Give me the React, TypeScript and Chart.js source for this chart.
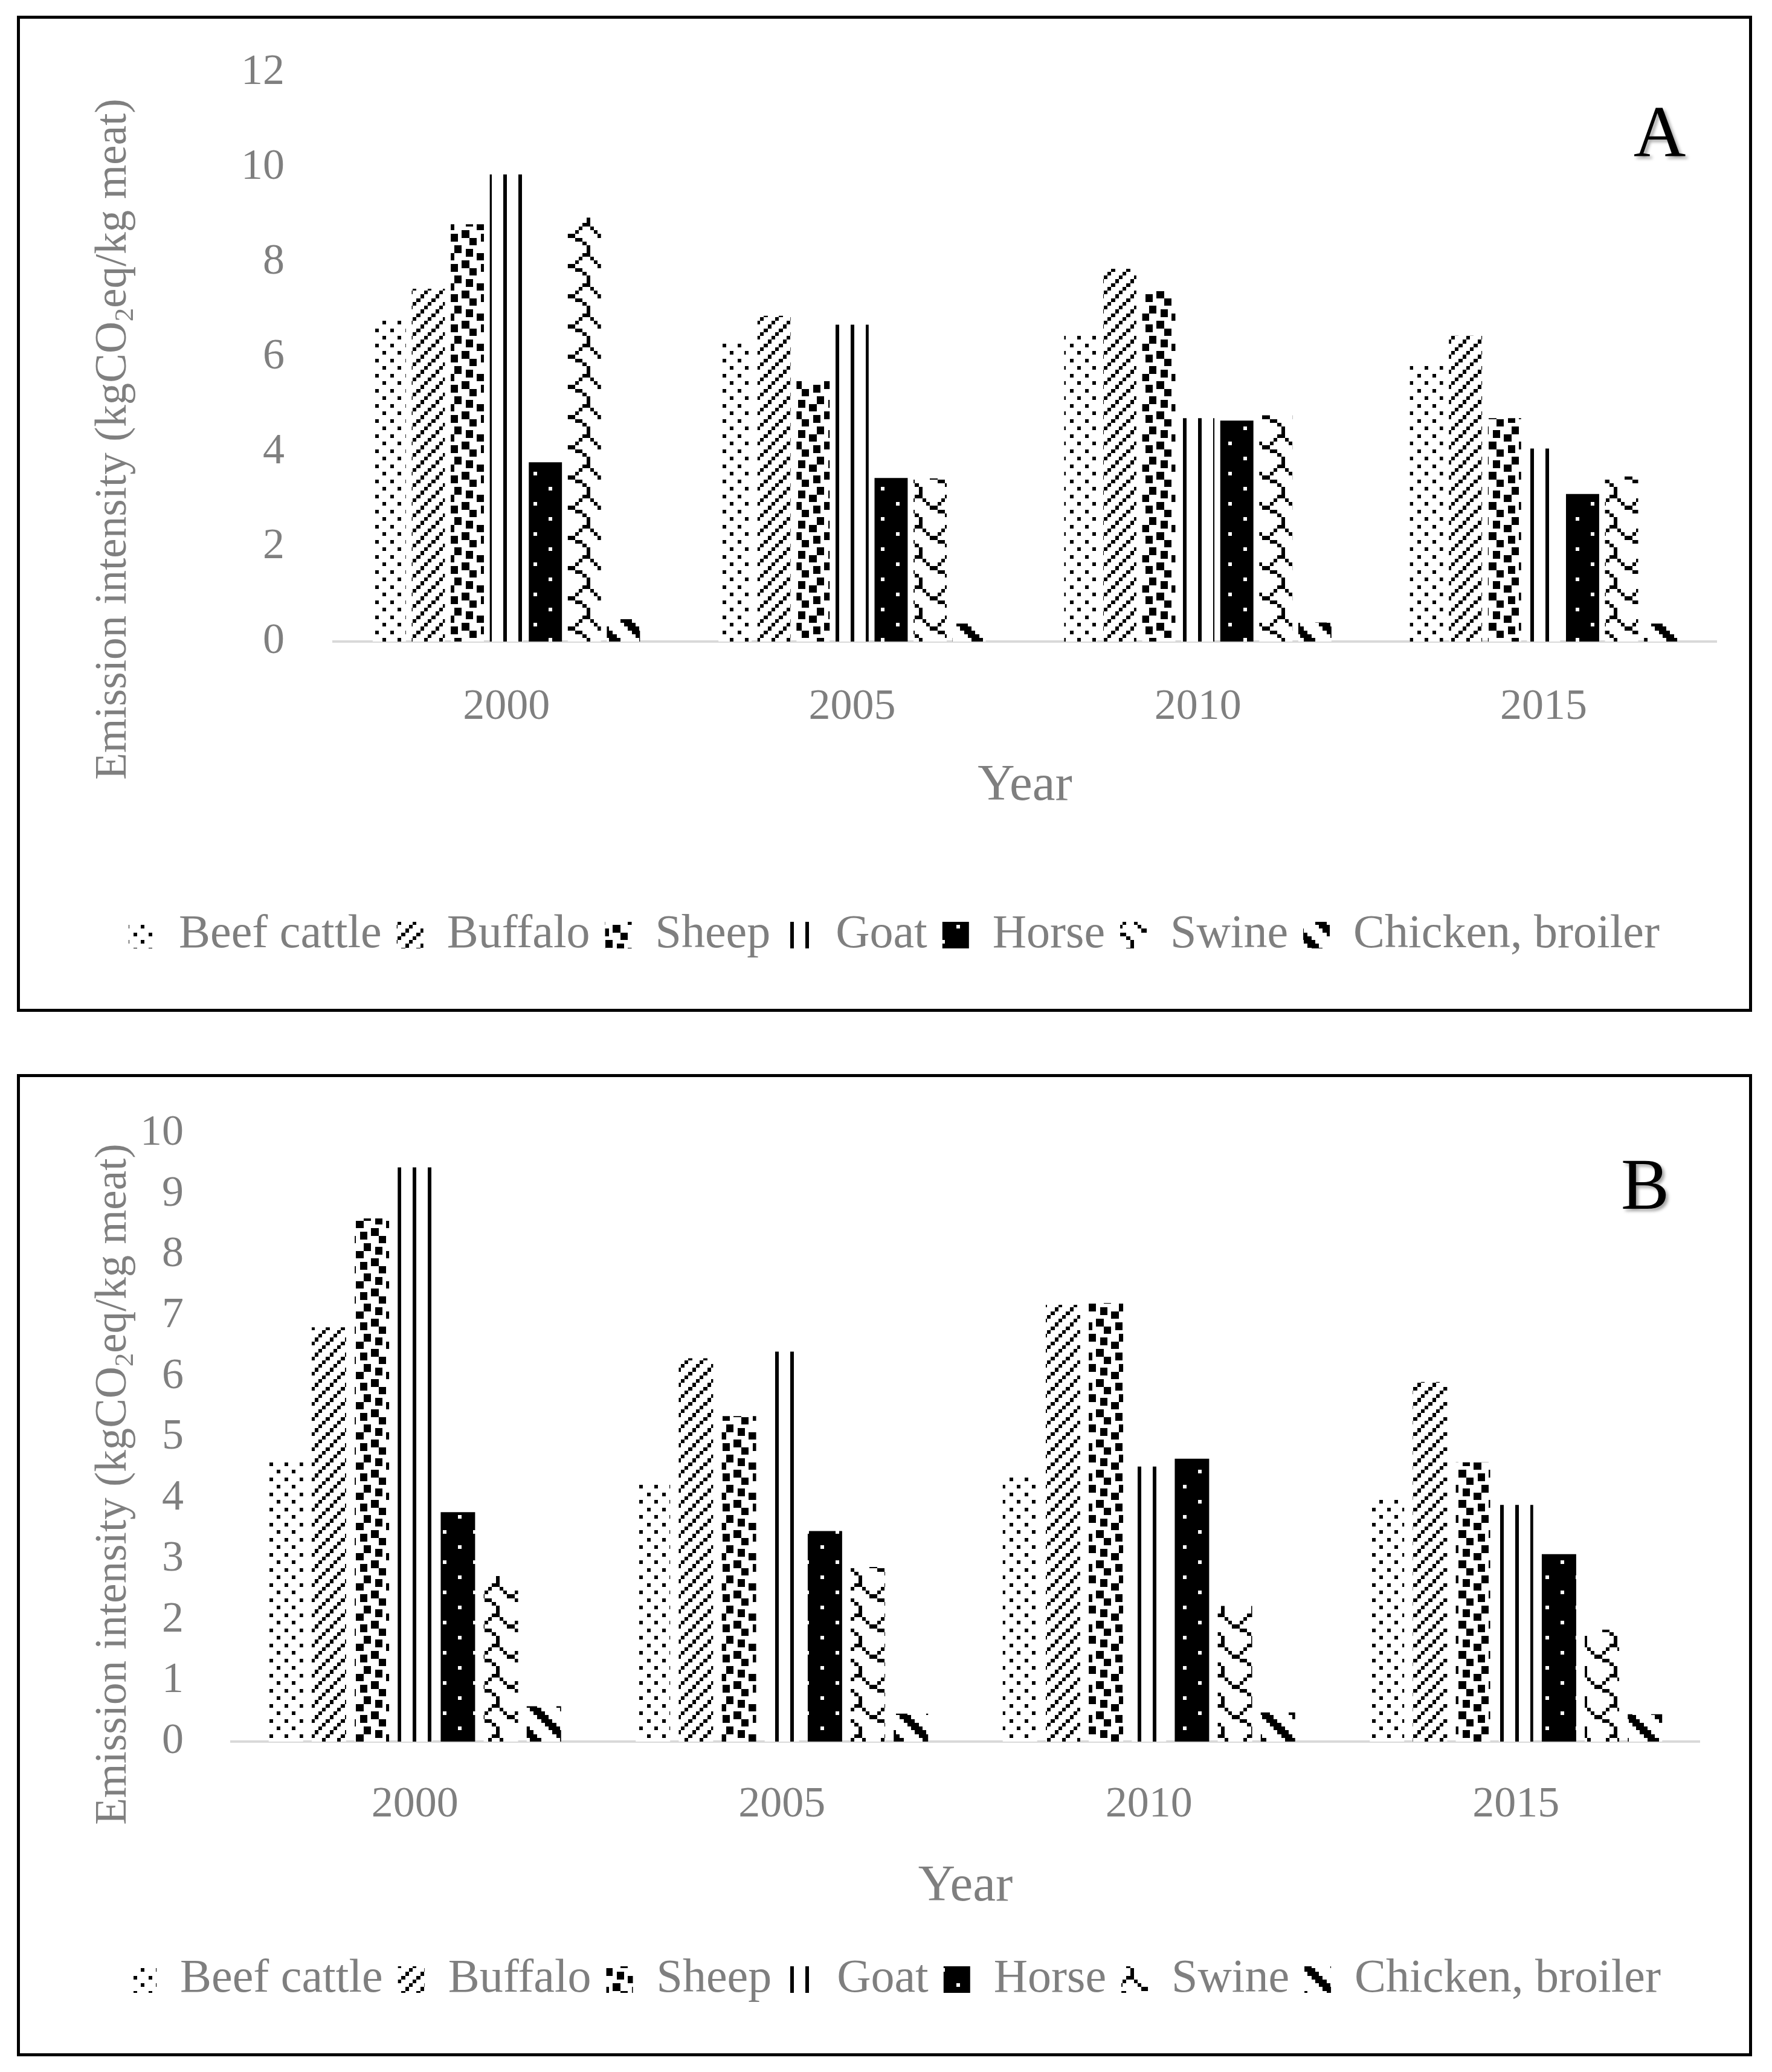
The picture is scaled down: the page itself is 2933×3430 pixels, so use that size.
import React, { useEffect, useRef } from "react";
import { Chart, registerables } from "chart.js";

Chart.register(...registerables);

// ---------- data ----------
const years = ["2000", "2005", "2010", "2015"];
const seriesNames = ["Beef cattle", "Buffalo", "Sheep", "Goat", "Horse", "Swine", "Chicken, broiler"];

// Panel A
const beefA = [6.84, 6.32, 6.52, 5.88];
const buffaloA = [7.44, 6.87, 7.86, 6.45];
const sheepA = [8.8, 5.49, 7.39, 4.71];
const goatA = [9.85, 6.68, 4.71, 4.07];
const horseA = [3.78, 3.45, 4.66, 3.11];
const swineA = [8.94, 3.44, 4.77, 3.48];
const chickenA = [0.47, 0.38, 0.4, 0.38];
const yMaxA = 12;
const yStepA = 2;

// Panel B
const beefB = [4.65, 4.28, 4.39, 4.01];
const buffaloB = [6.81, 6.3, 7.18, 5.91];
const sheepB = [8.6, 5.35, 7.21, 4.59];
const goatB = [9.44, 6.41, 4.52, 3.89];
const horseB = [3.77, 3.46, 4.65, 3.08];
const swineB = [2.72, 2.87, 2.23, 1.84];
const chickenB = [0.58, 0.46, 0.48, 0.45];
const yMaxB = 10;
const yStepB = 1;

const yTitleMain1 = "Emission intensity (kgCO";
const yTitleSub = "2";
const yTitleMain2 = "eq/kg meat)";
const xTitle = "Year";

const FONT = "'Liberation Serif', 'DejaVu Serif', serif";
const GREY = "#7f7f7f";

// ---------- fill patterns (8x8 bitmaps, X = black) ----------
const bmpBeef = ["X...X...", "........", "..X...X.", "........", "X...X...", "........", "..X...X.", "........"];
const bmpBuffalo = ["...X...X", "..X...X.", ".X...X..", "X...X...", "...X...X", "..X...X.", ".X...X..", "X...X..."];
const bmpSheep = [".....XX.", "..XX.XX.", "X.XX...X", "X......X", "...XX...", "...XX.XX", ".XX...XX", ".XX....."];
const bmpGoat = ["X...X...", "X...X...", "X...X...", "X...X...", "X...X...", "X...X...", "X...X...", "X...X..."];
const bmpHorse = [".XXXXXXX", "XXXXXXXX", "XXXXXXXX", "XXXXXXXX", "XXXX.XXX", "XXXXXXXX", "XXXXXXXX", "XXXXXXXX"];
const bmpSwine = ["X..X....", ".XX.....", "...XX...", ".....X..", "......X.", "......X.", ".....XX.", "....X..X"];
const bmpChicken = ["XXX.....", ".XXX....", "..XXX...", "...XXX..", "....XXX.", ".....XXX", "X.....XX", "XX.....X"];

function bitmapPattern(rows: string[], u = 6.25) {
  const n = rows.length;
  const size = Math.round(n * u);
  const c = document.createElement("canvas");
  c.width = size;
  c.height = size;
  const g = c.getContext("2d")!;
  g.fillStyle = "#fff";
  g.fillRect(0, 0, size, size);
  g.fillStyle = "#000";
  for (let r = 0; r < n; r++) {
    for (let k = 0; k < rows[r].length; k++) {
      if (rows[r][k] === "X") {
        const x0 = Math.round(k * u);
        const x1 = Math.round((k + 1) * u);
        const y0 = Math.round(r * u);
        const y1 = Math.round((r + 1) * u);
        g.fillRect(x0, y0, x1 - x0, y1 - y0);
      }
    }
  }
  return g.createPattern(c, "repeat")!;
}

function makePatterns() {
  return [bmpBeef, bmpBuffalo, bmpSheep, bmpGoat, bmpHorse, bmpSwine, bmpChicken].map((b) => bitmapPattern(b));
}

type PanelProps = {
  series: number[][];
  yMax: number;
  yStep: number;
  width: number;
  height: number;
  padL: number;
  padR: number;
  padT: number;
  padB: number;
  yAxisW: number;
  yTickPad: number;
  xAxisH: number;
  xTickPad: number;
  yearPadB: number;
  titleX: number;
  titleY: number;
  catPct: number;
  barPct: number;
};

function Panel(p: PanelProps) {
  const ref = useRef<HTMLCanvasElement>(null);
  useEffect(() => {
    const canvas = ref.current!;
    const pats = makePatterns();
    const yTitlePlugin = {
      id: "yTitleCustom",
      afterDraw(chart: any) {
        const ctx: CanvasRenderingContext2D = chart.ctx;
        const f = 73;
        const main = `${f}px ${FONT}`;
        const sub = `${Math.round(f * 0.62)}px ${FONT}`;
        ctx.save();
        ctx.translate(p.titleX, p.titleY);
        ctx.rotate(-Math.PI / 2);
        ctx.fillStyle = GREY;
        ctx.textAlign = "left";
        ctx.textBaseline = "alphabetic";
        ctx.font = main;
        const w1 = ctx.measureText(yTitleMain1).width;
        const w3 = ctx.measureText(yTitleMain2).width;
        ctx.font = sub;
        const w2 = ctx.measureText(yTitleSub).width;
        let x = -(w1 + w2 + w3) / 2;
        const base = f * 0.3;
        ctx.font = main;
        ctx.fillText(yTitleMain1, x, base);
        x += w1;
        ctx.font = sub;
        ctx.fillText(yTitleSub, x, base + f * 0.16);
        x += w2;
        ctx.font = main;
        ctx.fillText(yTitleMain2, x, base);
        ctx.restore();
      },
    };
    const chart = new Chart(canvas, {
      type: "bar",
      data: {
        labels: years,
        datasets: seriesNames.map((name, i) => ({
          label: name,
          data: p.series[i],
          backgroundColor: pats[i] as any,
          borderWidth: 0,
          categoryPercentage: p.catPct,
          barPercentage: p.barPct,
        })),
      },
      options: {
        responsive: false,
        animation: false,
        devicePixelRatio: 1,
        layout: { padding: { left: p.padL, right: p.padR, top: p.padT, bottom: p.padB } },
        plugins: {
          legend: {
            position: "bottom",
            labels: {
              font: { family: FONT, size: 78 },
              color: GREY,
              boxWidth: 44,
              boxHeight: 44,
              padding: 25,
            },
          },
          tooltip: { enabled: false },
        },
        scales: {
          x: {
            grid: { display: false, drawTicks: false },
            border: { display: true, color: "#d9d9d9", width: 4 },
            ticks: { font: { family: FONT, size: 72 }, color: GREY, padding: p.xTickPad },
            title: {
              display: true,
              text: xTitle,
              font: { family: FONT, size: 85 },
              color: GREY,
              padding: { top: 0, bottom: p.yearPadB },
            },
            afterFit: (s: any) => {
              s.height = p.xAxisH;
            },
          },
          y: {
            min: 0,
            max: p.yMax,
            grid: { display: false, drawTicks: false },
            border: { display: false },
            ticks: { stepSize: p.yStep, font: { family: FONT, size: 72 }, color: GREY, padding: p.yTickPad },
            afterFit: (s: any) => {
              s.width = p.yAxisW;
              s.paddingTop = 0;
              s.paddingBottom = 0;
            },
          },
        },
      },
      plugins: [yTitlePlugin],
    });
    return () => chart.destroy();
  }, []);
  return <canvas ref={ref} width={p.width} height={p.height} style={{ position: "absolute", left: 0, top: 0, width: p.width, height: p.height }} />;
}

const letterStyle: React.CSSProperties = {
  position: "absolute",
  fontFamily: FONT,
  fontSize: 120,
  lineHeight: 1,
  color: "#000",
  transform: "translateX(-50%)",
  textShadow: "4px 4px 5px rgba(0,0,0,0.35)",
  whiteSpace: "nowrap",
};

export default function App() {
  return (
    <div style={{ position: "absolute", left: 0, top: 0, width: 2933, height: 3430, background: "#fff", overflow: "hidden" }}>
      <div style={{ position: "absolute", left: 28, top: 26, width: 2872, height: 1649, border: "5px solid #000", boxSizing: "border-box" }}>
        <Panel
          series={[beefA, buffaloA, sheepA, goatA, horseA, swineA, chickenA]}
          yMax={yMaxA}
          yStep={yStepA}
          width={2862}
          height={1639}
          padL={86}
          padR={54}
          padT={89}
          padB={73}
          yAxisW={433}
          yTickPad={81}
          xAxisH={422}
          xTickPad={66}
          yearPadB={131}
          titleX={153}
          titleY={696}
          catPct={0.79}
          barPct={0.85}
        />
      </div>
      <div style={{ position: "absolute", left: 28, top: 1778, width: 2872, height: 1626, border: "5px solid #000", boxSizing: "border-box" }}>
        <Panel
          series={[beefB, buffaloB, sheepB, goatB, horseB, swineB, chickenB]}
          yMax={yMaxB}
          yStep={yStepB}
          width={2862}
          height={1616}
          padL={118}
          padR={82}
          padT={93}
          padB={73}
          yAxisW={232}
          yTickPad={79}
          xAxisH={330}
          xTickPad={62}
          yearPadB={38}
          titleX={153}
          titleY={674}
          catPct={0.82}
          barPct={0.8}
        />
      </div>
      <div style={{ ...letterStyle, left: 2747, top: 159 }}>A</div>
      <div style={{ ...letterStyle, left: 2723, top: 1901 }}>B</div>
    </div>
  );
}
